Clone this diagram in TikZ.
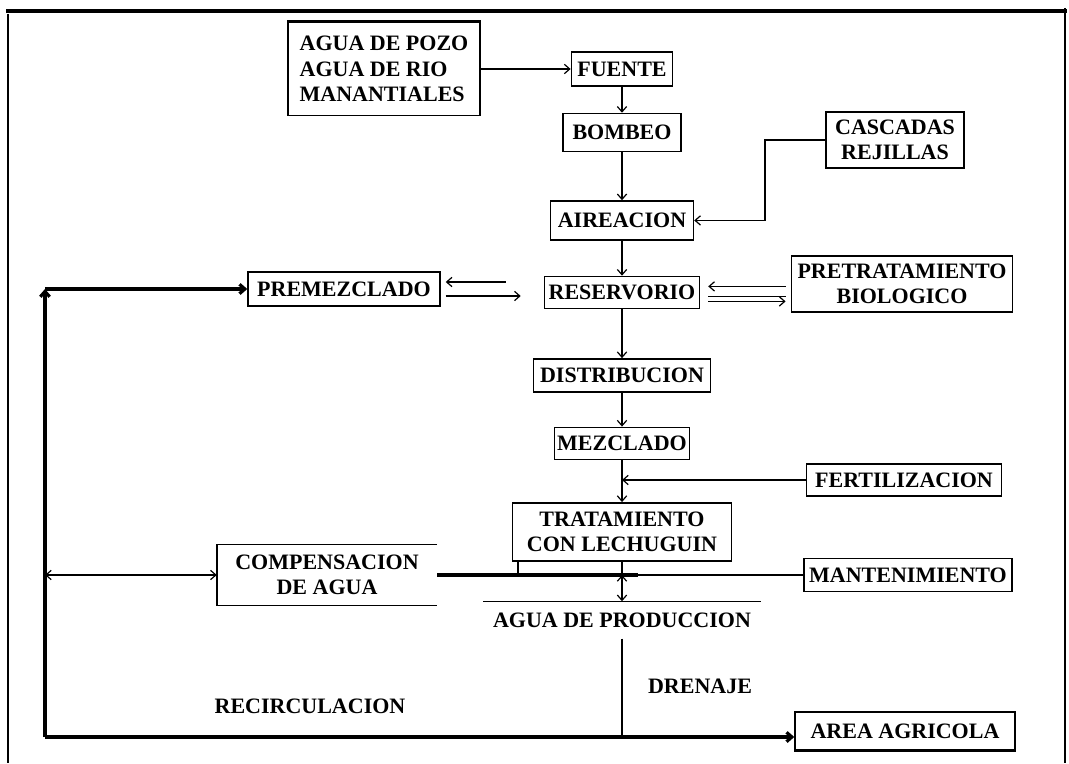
\documentclass[tikz,border=0pt]{standalone}
\usepackage{fontspec}
\setmainfont{Liberation Serif}
\usetikzlibrary{positioning,arrows.meta}
\tikzset{
  flow/.style={-{Straight Barb[length=4pt,width=7pt]},line width=0.9pt},
  twoflow/.style={{Straight Barb[length=4pt,width=7pt]}-{Straight Barb[length=4pt,width=7pt]},line width=0.9pt},
  plainflow/.style={line width=0.9pt},
  heavyline/.style={line width=2.4pt},
  edgeline/.style={line width=1.1pt},
  box/.style={draw,line width=1.1pt,align=center,inner sep=1pt,
    font=\fontsize{16.5}{19}\selectfont\bfseries},
  openbox/.style={box,draw=none},
  tag/.style={font=\fontsize{16.5}{19}\selectfont\bfseries}
}

\begin{document}
\begin{tikzpicture}[x=0.75pt,y=-0.75pt]
  \useasboundingbox (0,0) rectangle (1069,763);
  % frame
  \draw[heavyline] (6,11) -- (1067,11);
  \draw[line width=2pt] (8,14) -- (8,763);
  \draw[line width=2pt] (1065,8) -- (1065,763);
  % main chain
  \node[box,minimum width=76pt,minimum height=25.5pt] (fuente) at (622,69) {FUENTE};
  \node[box,below=19.5pt of fuente,minimum width=88.5pt,minimum height=28.5pt] (bombeo) {BOMBEO};
  \node[box,below=36pt of bombeo,minimum width=107.25pt,minimum height=29.25pt] (aire) {AIREACION};
  \node[box,below=26.25pt of aire,minimum width=116.25pt,minimum height=24pt] (reserv) {RESERVORIO};
  \node[box,below=36.75pt of reserv,minimum width=132.75pt,minimum height=24.75pt] (distrib) {DISTRIBUCION};
  \node[box,below=25.5pt of distrib,minimum width=101.25pt,minimum height=24pt] (mezcl) {MEZCLADO};
  \node[box,below=31.5pt of mezcl,minimum width=164.25pt,minimum height=43.5pt] (trat) {TRATAMIENTO\\CON LECHUGUIN};
  \node[openbox,minimum width=207pt,minimum height=27pt] (prod) at (622,620) {AGUA DE PRODUCCION};
  % side boxes
  \node[box,align=left,minimum width=144pt,minimum height=69.75pt] (src) at (384,69) {AGUA DE POZO\\AGUA DE RIO\\MANANTIALES};
  \node[box,minimum width=103.5pt,minimum height=42pt] (casc) at (895,140) {CASCADAS\\REJILLAS};
  \node[box,minimum width=144pt,minimum height=25.5pt] (premez) at (344,289) {PREMEZCLADO};
  \node[box,minimum width=166pt,minimum height=42pt] (pretrat) at (902,284) {PRETRATAMIENTO\\BIOLOGICO};
  \node[box,minimum width=146pt,minimum height=24pt] (fert) at (904,480) {FERTILIZACION};
  \node[openbox,minimum width=164.25pt,minimum height=45pt] (comp) at (327,575) {COMPENSACION\\DE AGUA};
  \node[box,minimum width=156pt,minimum height=24.75pt] (mant) at (908,575) {MANTENIMIENTO};
  \node[box,minimum width=165pt,minimum height=28.5pt] (area) at (905,731) {AREA AGRICOLA};
  \node[tag] (recirc) at (310,706) {RECIRCULACION};
  \node[tag] (drenaje) at (700,686) {DRENAJE};
  % partial borders
  \draw[heavyline] (src.north west) -- (src.north east);
  \draw[edgeline] (comp.north east) -- (comp.north west) -- (comp.south west) -- (comp.south east);
  \draw[edgeline] (prod.north west) -- (prod.north east);
  \draw[heavyline] (area.south west) -- (area.south east);
  % free ends
  \coordinate (cbend) at (765,140);
  \coordinate (junc) at (622,575);
  \coordinate (legL) at (518,575);
  \coordinate (drain) at (622,737);
  \coordinate (recB) at (45,737);
  \coordinate (recT) at (45,289);
  % connectors
  \draw[flow] (src.east) -- (fuente.west);
  \draw[flow] (fuente) -- (bombeo);
  \draw[flow] (bombeo) -- (aire);
  \draw[flow] (aire) -- (reserv);
  \draw[flow] (reserv) -- (distrib);
  \draw[flow] (distrib) -- (mezcl);
  \draw[flow] (mezcl) -- (trat);
  \draw[flow] (casc.west) -- (cbend) |- (aire.east);
  \draw[flow] (fert.west) -- (fert.west -| mezcl.south);
  \draw[flow] ([xshift=48.75pt,yshift=5.25pt]premez.east) -- ([xshift=3.75pt,yshift=5.25pt]premez.east);
  \draw[flow] ([xshift=3.75pt,yshift=-5.25pt]premez.east) -- ([xshift=60pt,yshift=-5.25pt]premez.east);
  \draw[flow] ([xshift=64pt,yshift=4.5pt]reserv.east) -- ([xshift=6pt,yshift=4.5pt]reserv.east);
  \draw[plainflow] ([xshift=6pt,yshift=-3pt]reserv.east) -- ([xshift=64pt,yshift=-3pt]reserv.east);
  \draw[flow] ([xshift=6pt,yshift=-6.75pt]reserv.east) -- ([xshift=64pt,yshift=-6.75pt]reserv.east);
  \draw[plainflow] (trat.south) -- (junc);
  \draw[plainflow] (legL |- trat.south) -- (legL);
  \draw[heavyline] (comp.east) -- ([xshift=12pt]junc);
  \draw[plainflow] (junc) -- (mant.west);
  \draw[twoflow] (junc) -- (prod.north);
  \draw[plainflow] (prod.south) -- (drain);
  \draw[heavyline,-{Straight Barb[length=4pt,width=7pt]}] (recB) -- (recB -| area.west);
  \draw[heavyline,-{Straight Barb[length=4pt,width=7pt]}] (recB) -- (recT);
  \draw[heavyline,-{Straight Barb[length=4pt,width=7pt]}] (recT) -- (premez.west);
  \draw[twoflow] (recB |- comp.west) -- (comp.west);
\end{tikzpicture}
\end{document}
